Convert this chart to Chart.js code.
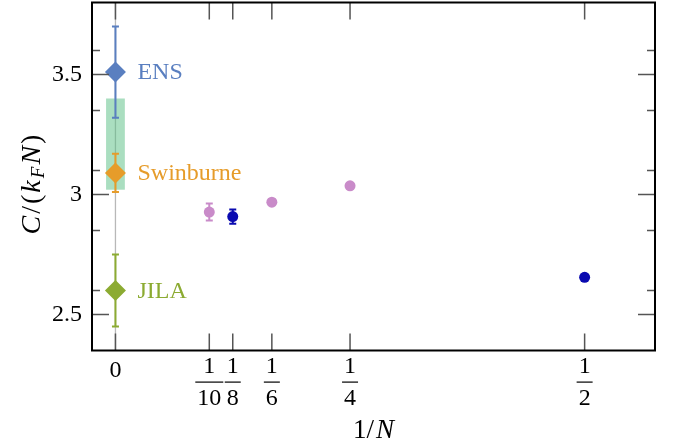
<!DOCTYPE html>
<html><head><meta charset="utf-8">
<script src="https://cdn.jsdelivr.net/npm/chart.js@4"></script>
<style>html,body{margin:0;padding:0;background:#fff}#wrap{width:676px;height:448px;position:relative}</style>
</head><body><div id="wrap"><canvas id="c" width="676" height="448"></canvas></div>
<script>
// ---- data ----
const expNames = ['ENS', 'Swinburne', 'JILA'];
const expX = [0, 0, 0];
const expY = [3.51, 3.09, 2.60];
const expErr = [0.19, 0.08, 0.15];
const bandX = [-0.01, 0.01];
const bandY = [3.02, 3.40];
const pinkX = [1/10, 1/6, 1/4];
const pinkY = [2.927, 2.968, 3.036];
const pinkErr = [0.035, 0.006, 0.006];
const blueX = [1/8, 1/2];
const blueY = [2.908, 2.655];
const blueErr = [0.03, 0];
const xTickValues = [0, 1/10, 1/8, 1/6, 1/4, 1/2];
const xTickNum = ['0', '1', '1', '1', '1', '1'];
const xTickDen = ['', '10', '8', '6', '4', '2'];
const yMajorTicks = [2.5, 3, 3.5];
const yMajorLabels = ['2.5', '3', '3.5'];
const yMinorTicks = [2.6, 2.85, 3.1, 3.35, 3.6];

const expColors = ['#5a7fc0', '#e69c2a', '#8cab32'];
const pinkColor = '#c98bc9';
const blueColor = '#0a0ab0';
const SERIF = '"Liberation Serif", "DejaVu Serif", serif';

const toPts = (xs, ys) => xs.map((v, i) => ({x: v, y: ys[i]}));

// draw a run of styled text pieces centred at (0,0) in the current transform
function drawPieces(ctx, parts, gap) {
  let tot = 0;
  parts.forEach(p => { ctx.font = p[1] + ' ' + SERIF; tot += ctx.measureText(p[0]).width + gap; });
  tot -= gap;
  let ox = -tot / 2;
  ctx.textAlign = 'left';
  parts.forEach(p => {
    ctx.font = p[1] + ' ' + SERIF;
    ctx.fillText(p[0], ox, p[2]);
    ox += ctx.measureText(p[0]).width + gap;
  });
}

const decor = {
  id: 'decor',
  beforeDatasetsDraw(chart) {
    const {ctx, chartArea: a, scales: {x, y}} = chart;
    ctx.save();
    ctx.beginPath(); ctx.rect(a.left, a.top, a.right - a.left, a.bottom - a.top); ctx.clip();
    const x0 = x.getPixelForValue(0);
    ctx.strokeStyle = '#b8b8b8'; ctx.lineWidth = 1.3;
    ctx.beginPath(); ctx.moveTo(x0, a.top); ctx.lineTo(x0, a.bottom); ctx.stroke();
    const bx1 = x.getPixelForValue(bandX[0]), bx2 = x.getPixelForValue(bandX[1]);
    const by1 = y.getPixelForValue(bandY[1]), by2 = y.getPixelForValue(bandY[0]);
    ctx.fillStyle = 'rgba(85,190,130,0.5)';
    ctx.fillRect(bx1, by1, bx2 - bx1, by2 - by1);
    const eb = (xs, ys, es, color, cap, lw) => {
      ctx.strokeStyle = color; ctx.lineWidth = lw;
      xs.forEach((xv, i) => {
        if (!es[i]) return;
        const px = x.getPixelForValue(xv);
        const t = y.getPixelForValue(ys[i] + es[i]);
        const b = y.getPixelForValue(ys[i] - es[i]);
        ctx.beginPath();
        ctx.moveTo(px, t); ctx.lineTo(px, b);
        ctx.moveTo(px - cap, t); ctx.lineTo(px + cap, t);
        ctx.moveTo(px - cap, b); ctx.lineTo(px + cap, b);
        ctx.stroke();
      });
    };
    expX.forEach((xv, i) => eb([xv], [expY[i]], [expErr[i]], expColors[i], 3.5, 2));
    eb(pinkX, pinkY, pinkErr, pinkColor, 3.5, 2);
    eb(blueX, blueY, blueErr, blueColor, 3.5, 2);
    ctx.restore();
  },
  afterDraw(chart) {
    const {ctx, chartArea: a, scales: {x, y}} = chart;
    ctx.save();
    ctx.strokeStyle = '#555'; ctx.lineWidth = 1.5;
    ctx.beginPath();
    xTickValues.forEach(v => {
      const px = x.getPixelForValue(v);
      ctx.moveTo(px, a.bottom); ctx.lineTo(px, a.bottom - 17);
      ctx.moveTo(px, a.top); ctx.lineTo(px, a.top + 17);
    });
    yMajorTicks.forEach(v => {
      const py = y.getPixelForValue(v);
      ctx.moveTo(a.left, py); ctx.lineTo(a.left + 17, py);
      ctx.moveTo(a.right, py); ctx.lineTo(a.right - 17, py);
    });
    yMinorTicks.forEach(v => {
      const py = y.getPixelForValue(v);
      ctx.moveTo(a.left, py); ctx.lineTo(a.left + 8, py);
      ctx.moveTo(a.right, py); ctx.lineTo(a.right - 8, py);
    });
    ctx.stroke();
    ctx.strokeStyle = '#000'; ctx.lineWidth = 2;
    ctx.strokeRect(a.left, a.top, a.right - a.left, a.bottom - a.top);
    ctx.fillStyle = '#000';
    ctx.font = '24px ' + SERIF;
    ctx.textAlign = 'right'; ctx.textBaseline = 'middle';
    yMajorTicks.forEach((v, i) => ctx.fillText(yMajorLabels[i], a.left - 10, y.getPixelForValue(v)));
    ctx.textAlign = 'center';
    xTickValues.forEach((v, i) => {
      const px = x.getPixelForValue(v);
      if (!xTickDen[i]) {
        ctx.fillText(xTickNum[i], px, a.bottom + 20);
        return;
      }
      ctx.fillText(xTickNum[i], px, a.bottom + 16);
      const w = ctx.measureText(xTickDen[i]).width + 4;
      ctx.fillRect(px - w / 2, a.bottom + 31, w, 1.2);
      ctx.fillText(xTickDen[i], px, a.bottom + 48);
    });
    // x axis title 1/N
    ctx.save();
    ctx.translate((a.left + a.right) / 2, a.bottom + 80);
    drawPieces(ctx, [['1/', '27px', 0], ['N', 'italic 27px', 0]], 2);
    ctx.restore();
    // y axis title C/(k_F N)
    ctx.save();
    ctx.translate(33, (a.top + a.bottom) / 2 + 8);
    ctx.rotate(-Math.PI / 2);
    drawPieces(ctx, [
      ['C', 'italic 28px', 0], ['/', '28px', 0], ['(', '28px', 0], ['k', 'italic 28px', 0],
      ['F', 'italic 19px', 6], ['N', 'italic 28px', 0], [')', '28px', 0]
    ], 2);
    ctx.restore();
    ctx.font = '24px ' + SERIF;
    ctx.textAlign = 'left'; ctx.textBaseline = 'middle';
    expNames.forEach((n, i) => {
      ctx.fillStyle = expColors[i];
      ctx.fillText(n, x.getPixelForValue(expX[i]) + 22, y.getPixelForValue(expY[i]) + 1);
    });
    ctx.restore();
  }
};

new Chart(document.getElementById('c'), {
  type: 'scatter',
  data: {
    datasets: [
      { label: 'experiments', data: toPts(expX, expY), pointStyle: 'rectRot', pointRadius: 10.5,
        backgroundColor: expColors, borderColor: expColors, borderWidth: 0 },
      { label: 'pink', data: toPts(pinkX, pinkY), pointStyle: 'circle', pointRadius: 5.5,
        backgroundColor: pinkColor, borderColor: pinkColor, borderWidth: 0 },
      { label: 'blue', data: toPts(blueX, blueY), pointStyle: 'circle', pointRadius: 5.5,
        backgroundColor: blueColor, borderColor: blueColor, borderWidth: 0 }
    ]
  },
  options: {
    responsive: false, animation: false, devicePixelRatio: 1,
    layout: { autoPadding: false, padding: { left: 92, right: 21, top: 2.5, bottom: 97.5 } },
    plugins: { legend: { display: false }, tooltip: { enabled: false } },
    scales: {
      x: { type: 'linear', min: -0.025, max: 0.575, display: false },
      y: { type: 'linear', min: 2.35, max: 3.8, display: false }
    }
  },
  plugins: [decor]
});
</script>
</body></html>
